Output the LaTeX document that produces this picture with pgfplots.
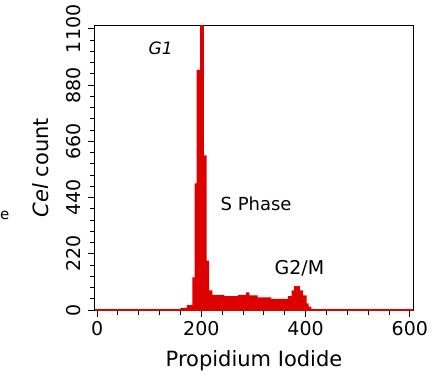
\documentclass[border=0pt]{standalone}
\usepackage{pgfplots}
\pgfplotsset{compat=1.18}
\usepackage{fontspec}
\setmainfont{DejaVu Sans}
\definecolor{fcred}{RGB}{221,0,0}
\begin{document}
\begin{tikzpicture}
\useasboundingbox (-95pt,-71pt) rectangle (340pt,310pt);
\begin{axis}[
  at={(0,0)}, anchor=south west,
  scale only axis, width=318pt, height=285pt,
  xmin=-4, xmax=606, ymin=0, ymax=1115,
  xtick={0,200,400,600}, minor x tick num=4,
  ytick={0,220,440,660,880,1100}, minor y tick num=4,
  tick align=outside, tick pos=left,
  major tick length=7pt, minor tick length=5pt,
  tick style={black, line width=1pt},
  axis line style={line width=1pt},
  ticklabel style={font=\fontsize{19}{22}\selectfont},
  /pgf/number format/assume math mode=true,
  /pgf/number format/1000 sep={},
  yticklabel style={rotate=90, anchor=south, xshift=0pt},
  yticklabel shift=4pt,
  xticklabel shift=1pt,
  xlabel={Propidium Iodide},
  ylabel={\textit{Cel} count},
  label style={font=\fontsize{21}{24}\selectfont},
  ylabel style={yshift=10pt},
  xlabel style={yshift=-8pt},
]
\addplot[const plot, fill=fcred, draw=none] coordinates {
(-4,0) (150,3) (160,8) (172,19) (183,128) (187,495) (191,939) (197.5,1200) (205,605) (210,193) (215,77) (221,59) (244,54) (270,59) (286,69) (292,57) (308,49) (334,44) (366,54) (373,77) (378,93) (389,77) (395,57) (402,26) (406,13) (411,0) (606,0)
} \closedcycle;
\addplot[fcred, line width=1.6pt] coordinates {(-4,0) (606,0)};
\node[font=\fontsize{17}{20}\selectfont\itshape] at (axis cs:122,1023) {G1};
\node[font=\fontsize{18}{21}\selectfont] at (axis cs:305,417) {S Phase};
\node[font=\fontsize{19}{22}\selectfont] at (axis cs:388,162) {G2/M};
\end{axis}
\node[font=\fontsize{15}{18}\selectfont, anchor=west, inner sep=0pt] at (-95pt,95pt) {e};
\end{tikzpicture}
\end{document}
